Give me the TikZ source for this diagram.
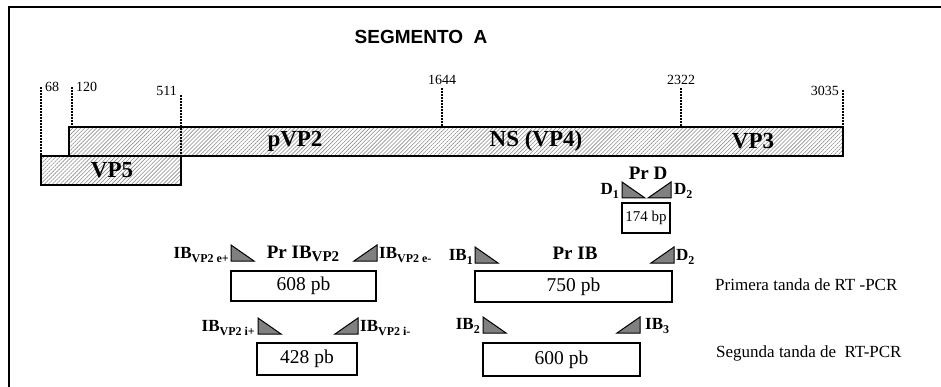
\documentclass[tikz,border=0pt]{standalone}
\usepackage{fontspec}
\setmainfont{Liberation Serif}
\newfontfamily\titlefont{Liberation Sans}
\usetikzlibrary{patterns.meta}
\newcommand\psub[1]{\raisebox{-0.45ex}{\fontsize{12}{12}\selectfont #1}}
\newcommand\bigsub[1]{\raisebox{-0.35ex}{\fontsize{15}{15}\selectfont #1}}
\newcommand\fwdprimer[2]{\draw[primer] (#1,#2) -- ++(0,16) -- ++(23,0) -- cycle;}
\newcommand\revprimer[2]{\draw[primer] (#1,#2) -- ++(0,16) -- ++(-23,0) -- cycle;}
\tikzset{
 bar/.style={draw=black, line width=1.5pt, pattern={Lines[angle=45,distance=2.8pt,line width=0.6pt]}, pattern color=black!45},
 tickline/.style={draw=black, line width=1.3pt, dash pattern=on 2pt off 1pt},
 numlbl/.style={font=\fontsize{14}{16}\selectfont, inner sep=0pt},
 genelbl/.style={font=\fontsize{23}{25}\selectfont\bfseries, inner sep=0pt},
 prtitle/.style={font=\fontsize{19}{21}\selectfont\bfseries, inner sep=0pt},
 prlbl/.style={font=\fontsize{17}{19}\selectfont\bfseries, inner sep=0pt},
 ampbox/.style={draw=black, line width=1.7pt, rectangle, inner sep=0pt, font=\fontsize{19.5}{21}\selectfont},
 primer/.style={draw=black, line width=1pt, fill=black!50, line join=miter},
 tanda/.style={font=\fontsize{17}{19}\selectfont, inner sep=0pt, anchor=west},
}
\begin{document}
\begin{tikzpicture}[x=1pt,y=-1pt]
\useasboundingbox (0,0) rectangle (941,387);
% frame
\draw[line width=2pt] (9,387) -- (9,7) -- (941,7);
% title
\node[font=\titlefont\bfseries\fontsize{19}{21}\selectfont, inner sep=0pt] (title) at (421,37) {SEGMENTO\ \ A};
% bars
\draw[bar] (69,127) rectangle (843,156);
\draw[bar] (41,156) rectangle (181,185);
% ticks
\draw[tickline] (41,87) -- (41,156);
\draw[tickline] (72,87) -- (72,127);
\draw[tickline] (181,95) -- (181,185);
\draw[tickline] (442,88) -- (442,127);
\draw[tickline] (681,88) -- (681,127);
\draw[tickline] (843,90) -- (843,156);
% numbers
\node[numlbl, anchor=west] (n68) at (45,87) {68};
\node[numlbl, anchor=west] (n120) at (76,87) {120};
\node[numlbl, anchor=east] (n511) at (177,91) {511};
\node[numlbl] (n1644) at (442,80) {1644};
\node[numlbl] (n2322) at (681,80) {2322};
\node[numlbl, anchor=east] (n3035) at (839,91) {3035};
% gene labels
\node[genelbl] (pvp2) at (295,141) {pVP2};
\node[genelbl] (ns) at (536,141) {NS (VP4)};
\node[genelbl] (vp3) at (753,141) {VP3};
\node[genelbl] (vp5) at (112,170) {VP5};
% Pr D
\node[prtitle] (prd) at (648,173) {Pr D};
\fwdprimer{622}{182}
\revprimer{671}{182}
\node[prlbl, anchor=east] (d1) at (619,191) {D\psub{1}};
\node[prlbl, anchor=west] (d2a) at (674,191) {D\psub{2}};
\node[ampbox, minimum width=48pt, minimum height=30pt, font=\fontsize{15}{17}\selectfont] (b174) at (646,218) {174 bp};
% Pr IB_VP2 first round
\fwdprimer{231}{245}
\revprimer{377}{245}
\node[prlbl, anchor=east] (ibve1) at (229,255) {IB\psub{VP2 e+}};
\node[prtitle] (pribvp2) at (303,254) {Pr IB\bigsub{VP2}};
\node[prlbl, anchor=west] (ibve2) at (379,255) {IB\psub{VP2 e-}};
\node[ampbox, minimum width=145pt, minimum height=30pt] (b608) at (303.5,286) {608 pb};
% Pr IB first round
\fwdprimer{475}{247}
\revprimer{674}{247}
\node[prlbl, anchor=east] (ib1) at (473,257) {IB\psub{1}};
\node[prtitle] (prib) at (575,253) {Pr IB};
\node[prlbl, anchor=west] (d2b) at (676,257) {D\psub{2}};
\node[ampbox, minimum width=197pt, minimum height=31pt] (b750) at (573.5,286.5) {750 pb};
\node[tanda] (t1) at (715,285) {Primera tanda de RT -PCR};
% second round
\fwdprimer{258}{318}
\revprimer{358}{318}
\node[prlbl, anchor=east] (ibvi1) at (255,328) {IB\psub{VP2 i+}};
\node[prlbl, anchor=west] (ibvi2) at (360,328) {IB\psub{VP2 i-}};
\node[ampbox, minimum width=100pt, minimum height=32pt] (b428) at (307,359) {428 pb};
\fwdprimer{483}{317}
\revprimer{640}{317}
\node[prlbl, anchor=east] (ib2) at (480,326) {IB\psub{2}};
\node[prlbl, anchor=west] (ib3) at (645,326) {IB\psub{3}};
\node[ampbox, minimum width=157pt, minimum height=33pt] (b600) at (561.5,359.5) {600 pb};
\node[tanda] (t2) at (716,353) {Segunda tanda de\ \ RT-PCR};
\end{tikzpicture}
\end{document}
